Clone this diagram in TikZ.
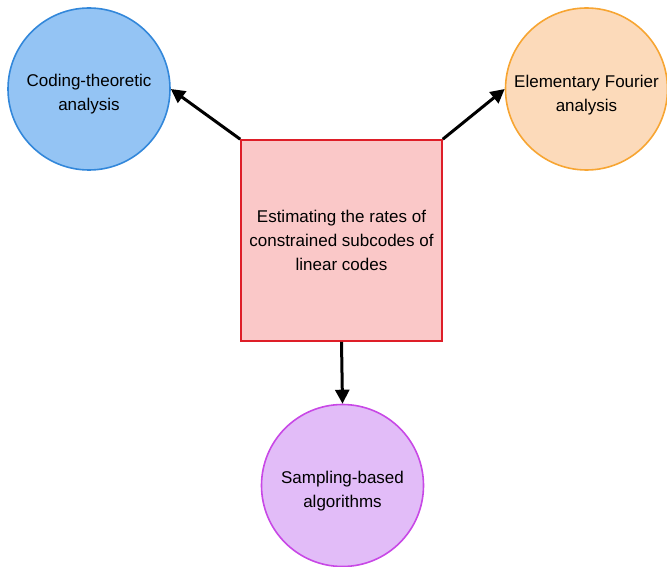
\documentclass[tikz,border=0pt]{standalone}
\usepackage{fontspec}
\setmainfont{Liberation Sans}
\usetikzlibrary{arrows.meta}
\definecolor{bfill}{RGB}{148,196,244}
\definecolor{bdraw}{RGB}{50,135,218}
\definecolor{ofill}{RGB}{252,218,186}
\definecolor{odraw}{RGB}{247,165,50}
\definecolor{rfill}{RGB}{250,200,200}
\definecolor{rdraw}{RGB}{222,30,40}
\definecolor{pfill}{RGB}{226,188,248}
\definecolor{pdraw}{RGB}{200,72,230}
\tikzset{
  topic/.style={circle, minimum size=162pt, inner sep=0pt, line width=1.6pt},
  topictext/.style={align=center, inner sep=0pt, font=\fontsize{17}{24}\selectfont},
  mainbox/.style={rectangle, minimum width=201pt, minimum height=201pt, inner sep=0pt, line width=1.6pt, fill=rfill, draw=rdraw, align=center, font=\fontsize{17}{24}\selectfont},
  link/.style={line width=3pt, -{Triangle[length=14pt,width=14pt]}}
}
\begin{document}
\begin{tikzpicture}[x=1pt,y=-1pt]
\useasboundingbox (0,0) rectangle (667,567);
\node[mainbox] (m) at (341.5,240.5) {Estimating the rates of\\constrained subcodes of\\linear codes};
\node[topic, fill=bfill, draw=bdraw] (l) at (89,89) {};
\node[topictext] (lt) at ([yshift=-5pt]l.center) {Coding-theoretic\\analysis};
\node[topic, fill=ofill, draw=odraw] (r) at (586.5,89) {};
\node[topictext] (rt) at ([yshift=-6pt]r.center) {Elementary Fourier\\analysis};
\node[topic, fill=pfill, draw=pdraw] (b) at (342.5,485.5) {};
\node[topictext] (bt) at ([yshift=-6pt]b.center) {Sampling-based\\algorithms};
\draw[link] (m.north west) -- (l.east);
\draw[link] (m.north east) -- (r.west);
\draw[link] (m.south) -- (b.north);
\end{tikzpicture}
\end{document}
